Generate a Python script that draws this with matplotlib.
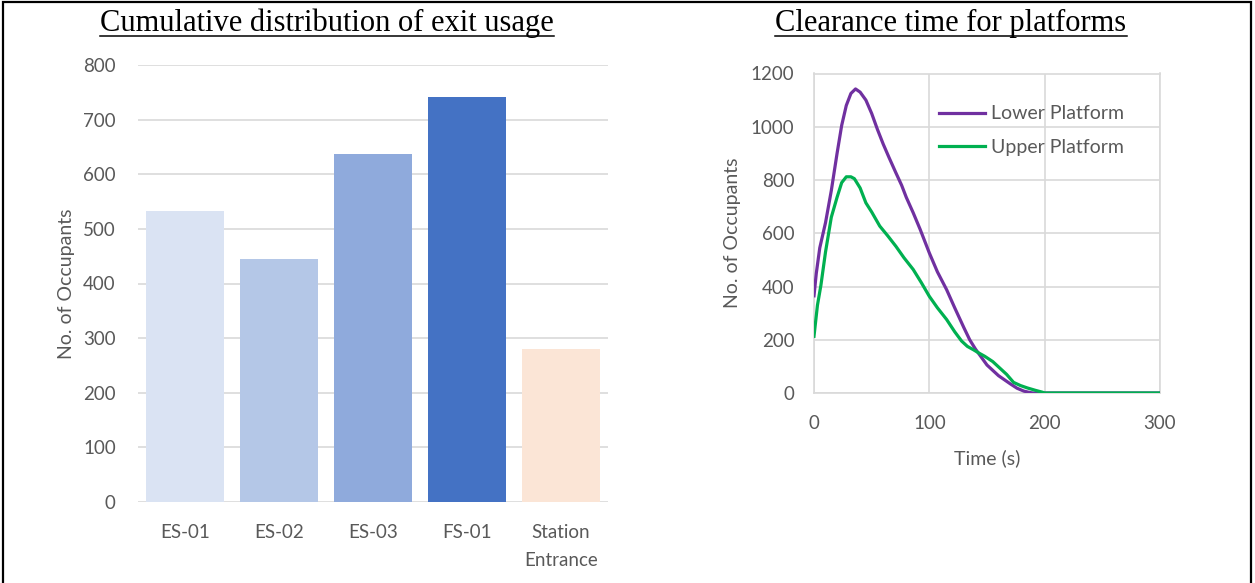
import matplotlib.pyplot as plt
from matplotlib.patches import Rectangle
from matplotlib.lines import Line2D

# exit usage
exits = ['ES-01', 'ES-02', 'ES-03', 'FS-01', 'Station\nEntrance']
occupants = [532, 445, 637, 742, 280]
bar_colors = ['#DAE3F3', '#B4C7E7', '#8FAADC', '#4472C4', '#FBE5D6']

# clearance time (s) vs occupants on platform
lower_t = [0, 2, 5, 10, 15, 20, 24, 28, 32, 36, 40, 45, 50, 55, 60, 65, 71, 76, 80, 86,
           92, 100, 107, 115, 122, 130, 135, 140, 145, 150, 155, 160, 165, 170, 176, 182, 187, 190, 300]
lower_y = [365, 450, 545, 640, 760, 900, 1005, 1080, 1125, 1142, 1130, 1100, 1050, 990, 935, 885, 827, 780, 735, 677,
           615, 526, 455, 388, 320, 245, 200, 165, 135, 105, 85, 65, 50, 35, 18, 7, 2, 0, 0]
upper_t = [0, 3, 6, 10, 15, 20, 24, 28, 32, 35, 40, 45, 50, 57, 64, 71, 78, 86, 93, 100,
           107, 115, 122, 128, 133, 138, 143, 148, 155, 161, 167, 173, 179, 185, 192, 198, 200, 300]
upper_y = [213, 330, 405, 530, 660, 735, 790, 812, 812, 805, 770, 714, 680, 627, 590, 551, 508, 464, 415, 363,
           320, 276, 230, 195, 175, 163, 150, 138, 118, 94, 70, 40, 28, 19, 10, 3, 0, 0]

GREY = '#595959'
GRID = '#D9D9D9'
plt.rcParams['font.family'] = ['Lato', 'DejaVu Sans']

W, H = 1255, 583
fig = plt.figure(figsize=(W / 100, H / 100), dpi=100)


def px_axes(x0, y0, x1, y1):
    return fig.add_axes([x0 / W, 1 - y1 / H, (x1 - x0) / W, (y1 - y0) / H])


# ---- left: bar chart ----
ax1 = px_axes(138, 65, 608, 502)
ax1.bar(range(len(exits)), occupants, width=0.83, color=bar_colors, zorder=3)
ax1.set_xlim(-0.5, len(exits) - 0.5)
ax1.set_ylim(0, 800)
ax1.set_yticks(range(0, 801, 100))
ax1.set_xticks(range(len(exits)))
ax1.set_xticklabels(exits, linespacing=1.75)
ax1.grid(axis='y', color=GRID, lw=1.2, zorder=0)
for s in ax1.spines.values():
    s.set_visible(False)
ax1.tick_params(length=0, labelsize=13.5, colors=GREY)
ax1.tick_params(axis='y', pad=16)
ax1.tick_params(axis='x', pad=16)
ax1.set_ylabel('No. of Occupants', fontsize=14, color=GREY, labelpad=6)

# ---- right: line chart ----
ax2 = px_axes(814, 73.5, 1160, 393)
ax2.plot(lower_t, lower_y, color='#7030A0', lw=2.3, label='Lower Platform', zorder=3)
ax2.plot(upper_t, upper_y, color='#00B050', lw=2.3, label='Upper Platform', zorder=3)
ax2.set_xlim(0, 300)
ax2.set_ylim(0, 1200)
ax2.set_xticks(range(0, 301, 100))
ax2.set_yticks(range(0, 1201, 200))
ax2.grid(color=GRID, lw=1.2, zorder=0)
for s in ax2.spines.values():
    s.set_color(GRID)
    s.set_linewidth(1.2)
ax2.tick_params(length=0, labelsize=13.5, colors=GREY)
ax2.tick_params(axis='y', pad=14)
ax2.tick_params(axis='x', pad=16)
ax2.set_ylabel('No. of Occupants', fontsize=14, color=GREY, labelpad=7)
ax2.set_xlabel('Time (s)', fontsize=14, color=GREY, labelpad=12)
leg = ax2.legend(loc='upper left', bbox_to_anchor=(0.36, 0.90), frameon=False,
                 fontsize=14, handlelength=2.4, handletextpad=0.3,
                 labelspacing=0.85, borderpad=0, borderaxespad=0)
for t in leg.get_texts():
    t.set_color(GREY)

# ---- underlined titles ----
titles = [('Cumulative distribution of exit usage', 327), ('Clearance time for platforms', 951)]
title_objs = []
for txt, xc in titles:
    t = fig.text(xc / W, 1 - 31 / H, txt, ha='center', va='baseline',
                 family='Liberation Serif', fontsize=22, color='black')
    title_objs.append(t)

fig.canvas.draw()
r = fig.canvas.get_renderer()
for t in title_objs:
    bb = t.get_window_extent(r).transformed(fig.transFigure.inverted())
    y = 1 - 36 / H
    fig.add_artist(Line2D([bb.x0, bb.x1], [y, y], transform=fig.transFigure,
                          color='black', lw=1.1))

# outer frame
fig.add_artist(Rectangle((2.5 / W, -0.02), (1251 - 2.5) / W, 1.02 - 2.5 / H,
                         transform=fig.transFigure, fill=False, ec='black', lw=1.6))

fig.savefig('out.png', dpi=100)
